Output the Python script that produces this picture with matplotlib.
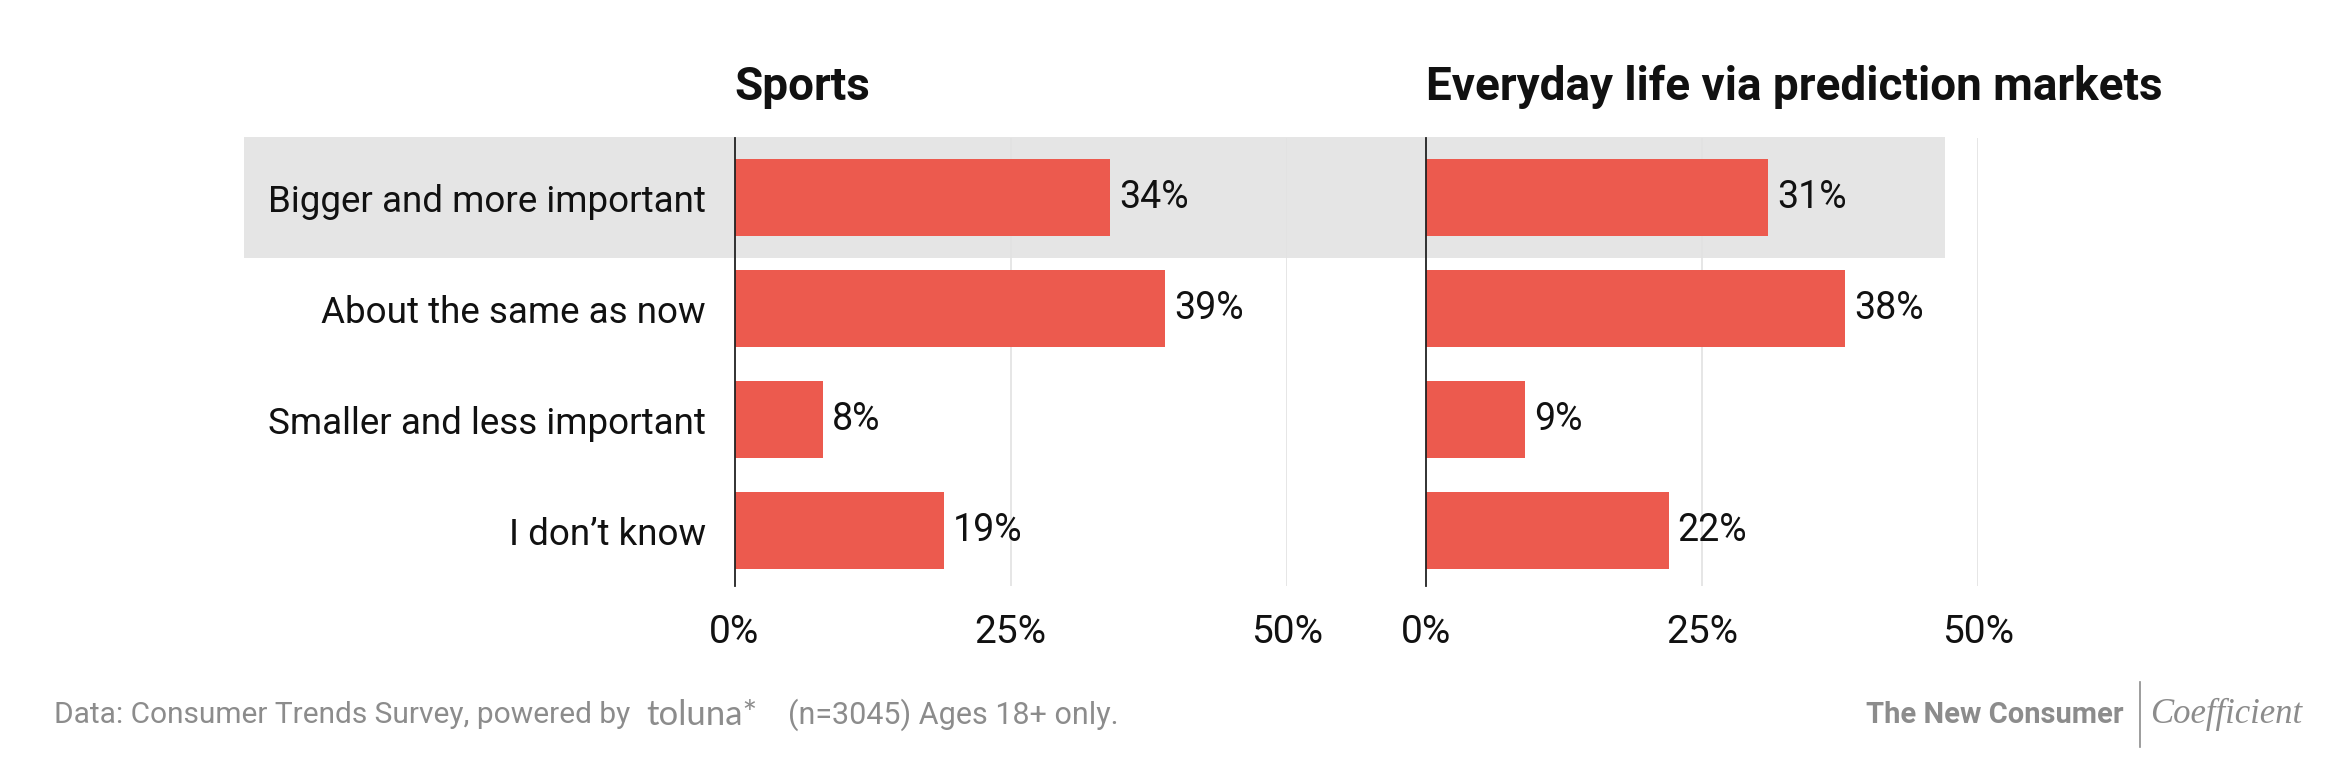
import matplotlib
matplotlib.use("Agg")
import matplotlib.pyplot as plt
import matplotlib.transforms as mtransforms
from matplotlib.patches import Rectangle

categories = ["Bigger and more important", "About the same as now",
              "Smaller and less important", "I don\u2019t know"]
sports = [34, 39, 8, 19]
everyday = [31, 38, 9, 22]
panel_titles = ["Sports", "Everyday life via prediction markets"]
xticks = [0, 25, 50]
xtick_labels = ["0%", "25%", "50%"]

BAR = "#EC5A4E"
BAND = "#E5E5E5"
GRID = "#E2E2E2"
FONT = "Roboto"

plt.rcParams['font.family'] = [FONT, 'DejaVu Sans']

fig = plt.figure(figsize=(23.46, 7.58), dpi=100)
fig.patch.set_facecolor("white")

bottom, top = 0.2268, 0.8185
axL = fig.add_axes([0.3131, bottom, 0.5485 - 0.3131, top - bottom])
axR = fig.add_axes([0.6078, bottom, 0.8431 - 0.6078, top - bottom])

ypos = list(range(len(categories)))
for ax, vals, title in [(axL, sports, panel_titles[0]), (axR, everyday, panel_titles[1])]:
    ax.set_facecolor("none")
    ax.barh(ypos, vals, height=0.70, color=BAR, zorder=3)
    for y, v in zip(ypos, vals):
        ax.text(v + 0.8, y, f"{v}%", va="center", ha="left", fontsize=27,
                color="#111111", zorder=4)
    ax.set_xlim(0, 50)
    ax.set_ylim(3.5, -0.54)
    for xv in xticks[1:]:
        ax.axvline(xv, color=GRID, lw=1.2, zorder=1)
    for s in ["top", "right", "bottom"]:
        ax.spines[s].set_visible(False)
    ax.spines["left"].set_color("#222222")
    ax.spines["left"].set_linewidth(1.3)
    ax.spines["left"].set_zorder(5)
    ax.set_xticks(xticks)
    ax.set_xticklabels(xtick_labels)
    ax.tick_params(axis="x", length=0, pad=20, labelsize=28, labelcolor="#111111")
    ax.set_yticks(ypos)
    ax.set_title(title, loc="left", fontsize=33, fontweight="bold",
                 color="#111111", pad=27)

axL.set_yticklabels(categories)
axL.tick_params(axis="y", length=0, pad=20.5, labelsize=26.5, labelcolor="#111111")
axR.set_yticklabels([])
axR.tick_params(axis="y", length=0)

# highlight band across the first row
trans = mtransforms.blended_transform_factory(fig.transFigure, axL.transData)
band = Rectangle((0.104, -0.545), 0.829 - 0.104, 1.09, transform=trans,
                 facecolor=BAND, edgecolor="none", zorder=-10)
fig.patches.append(band)

# footer
GREY = "#8C8C8C"
fy = 0.057
fig.text(0.023, fy, "Data: Consumer Trends Survey, powered by", fontsize=21.5,
         color=GREY, ha="left", va="center")
fig.text(0.2755, fy, "toluna*", fontsize=25, color=GREY, ha="left",
         va="center", family=["Lato", "DejaVu Sans"])
fig.text(0.336, fy, "(n=3045) Ages 18+ only.", fontsize=22,
         color=GREY, ha="left", va="center")
fig.text(0.905, fy, "The New Consumer", fontsize=21, color=GREY,
         ha="right", va="center", fontweight="bold")
fig.add_artist(plt.Line2D([0.912, 0.912], [0.015, 0.10], transform=fig.transFigure,
                          color=GREY, lw=1.2))
fig.text(0.9165, fy, "Coefficient", fontsize=25, color=GREY,
         ha="left", va="center", family=["Liberation Serif", "DejaVu Serif"],
         style="italic")

fig.savefig("out.png", dpi=100, facecolor="white")
